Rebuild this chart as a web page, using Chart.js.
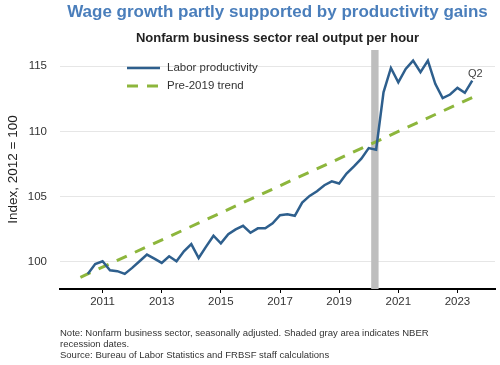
<!DOCTYPE html>
<html>
<head>
<meta charset="utf-8">
<script src="https://cdn.jsdelivr.net/npm/chart.js@4.4.1/dist/chart.umd.min.js"></script>
<style>
  html, body { margin: 0; padding: 0; background: #fff; }
  #wrap { position: relative; width: 500px; height: 365px; font-family: "Liberation Sans", Arial, sans-serif; }
  #note { position: absolute; left: 60px; top: 328px; font-size: 9.5px; line-height: 10.8px; color: #333; white-space: nowrap; }
</style>
</head>
<body>
<div id="wrap">
  <canvas id="chart" width="500" height="365"></canvas>
  <div id="note">Note: Nonfarm business sector, seasonally adjusted. Shaded gray area indicates NBER<br>recession dates.<br>Source: Bureau of Labor Statistics and FRBSF staff calculations</div>
</div>
<script>
/* ── Data ──────────────────────────────────────────── */
const quarters = [
  '2010Q2','2010Q3','2010Q4',
  '2011Q1','2011Q2','2011Q3','2011Q4',
  '2012Q1','2012Q2','2012Q3','2012Q4',
  '2013Q1','2013Q2','2013Q3','2013Q4',
  '2014Q1','2014Q2','2014Q3','2014Q4',
  '2015Q1','2015Q2','2015Q3','2015Q4',
  '2016Q1','2016Q2','2016Q3','2016Q4',
  '2017Q1','2017Q2','2017Q3','2017Q4',
  '2018Q1','2018Q2','2018Q3','2018Q4',
  '2019Q1','2019Q2','2019Q3','2019Q4',
  '2020Q1','2020Q2','2020Q3','2020Q4',
  '2021Q1','2021Q2','2021Q3','2021Q4',
  '2022Q1','2022Q2','2022Q3','2022Q4',
  '2023Q1','2023Q2'
];
const productivity = [
  99.06, 99.82, 100.03,
  99.34, 99.27, 99.06, 99.52,
  100.03, 100.54, 100.23, 99.90,
  100.41, 100.03, 100.80, 101.35,
  100.28, 101.15, 101.99, 101.41,
  102.10, 102.48, 102.75, 102.22,
  102.56, 102.56, 102.94, 103.57,
  103.63, 103.52, 104.54, 105.05,
  105.41, 105.87, 106.17, 106.00,
  106.76, 107.32, 107.91, 108.72,
  108.60, 113.00, 114.87, 113.77,
  114.80, 115.43, 114.54, 115.43,
  113.65, 112.55, 112.83, 113.34,
  112.96, 113.90
];
const trendQuarters = ['2010Q1', '2023Q2'];
const trendValues   = [98.8, 112.6];

const recessionStart = ['2020-02'];
const recessionEnd   = ['2020-04'];

const xTickYears = [2011, 2013, 2015, 2017, 2019, 2021, 2023];
const yTicks     = [100, 105, 110, 115];
const lastLabel  = 'Q2';

/* ── Helpers ───────────────────────────────────────── */
// quarter plotted at its end date
const qToYear = q => +q.slice(0, 4) + (+q.slice(5)) / 4;
const monthToYear = (m, end) => +m.slice(0, 4) + (+m.slice(5) - (end ? 0 : 1)) / 12;

Chart.defaults.font.family = '"Liberation Sans", Arial, sans-serif';
Chart.defaults.color = '#333';

const BLUE = '#2E5F8D', GREEN = '#8DB63C';

/* ── Plugins ───────────────────────────────────────── */
const recessionPlugin = {
  id: 'recession',
  beforeDatasetsDraw(chart) {
    const { ctx, chartArea: a, scales: { x } } = chart;
    ctx.save();
    ctx.fillStyle = '#BEBEBE';
    recessionStart.forEach((s, i) => {
      const x0 = x.getPixelForValue(monthToYear(s, false));
      const x1 = x.getPixelForValue(monthToYear(recessionEnd[i], true));
      ctx.fillRect(x0, a.top, x1 - x0, a.bottom - a.top);
    });
    ctx.restore();
  }
};

const legendPlugin = {
  id: 'inLegend',
  afterDatasetsDraw(chart) {
    const { ctx, chartArea: a } = chart;
    ctx.save();
    ctx.font = '11.5px "Liberation Sans", Arial, sans-serif';
    ctx.textBaseline = 'middle';
    chart.data.datasets.forEach((ds, i) => {
      const y = a.top + 18 + i * 18, x0 = a.left + 67;
      ctx.strokeStyle = ds.borderColor;
      ctx.lineWidth = ds.borderWidth;
      ctx.setLineDash(ds.borderDash || []);
      ctx.beginPath(); ctx.moveTo(x0, y); ctx.lineTo(x0 + 33, y); ctx.stroke();
      ctx.setLineDash([]);
      ctx.fillStyle = '#333';
      ctx.fillText(ds.label, x0 + 40, y);
    });
    // end-of-series label
    const meta = chart.getDatasetMeta(0);
    const last = meta.data[meta.data.length - 1];
    ctx.fillStyle = '#444';
    ctx.textAlign = 'center';
    ctx.textBaseline = 'alphabetic';
    ctx.font = '11px "Liberation Sans", Arial, sans-serif';
    ctx.fillText(lastLabel, last.x + 3, last.y - 4);
    ctx.restore();
  }
};

/* ── Chart ─────────────────────────────────────────── */
new Chart(document.getElementById('chart'), {
  type: 'line',
  data: {
    datasets: [
      {
        label: 'Labor productivity',
        data: quarters.map((q, i) => ({ x: qToYear(q), y: productivity[i] })),
        borderColor: BLUE, borderWidth: 2.5,
        pointRadius: 0, tension: 0, fill: false
      },
      {
        label: 'Pre-2019 trend',
        data: trendQuarters.map((q, i) => ({ x: qToYear(q), y: trendValues[i] })),
        borderColor: GREEN, borderWidth: 3, borderDash: [11, 9],
        pointRadius: 0, tension: 0, fill: false
      }
    ]
  },
  options: {
    responsive: false,
    animation: false,
    layout: { padding: { left: 0, right: 5, top: 0, bottom: 46 } },
    plugins: {
      legend: { display: false },
      tooltip: { enabled: false },
      title: {
        display: true, fullSize: false,
        text: 'Wage growth partly supported by productivity gains',
        color: '#4A7EBB', font: { size: 17, weight: 'bold' },
        padding: { top: 2, bottom: 8 }
      },
      subtitle: {
        display: true, fullSize: false,
        text: 'Nonfarm business sector real output per hour',
        color: '#222', font: { size: 13, weight: 'bold' },
        padding: { top: 0, bottom: 4 }
      }
    },
    scales: {
      x: {
        type: 'linear', min: 2009.56, max: 2024.27,
        afterBuildTicks: s => { s.ticks = xTickYears.map(v => ({ value: v })); },
        ticks: { color: '#333', font: { size: 11.5 }, padding: 2, autoSkip: false, maxRotation: 0,
                 callback: v => String(v) },
        grid: { display: true, drawOnChartArea: false, drawTicks: true, tickLength: 4, color: '#000' },
        border: { display: true, color: '#000', width: 2 },
        afterFit: s => { s.height = 30; }
      },
      y: {
        min: 97.9, max: 116.25,
        afterBuildTicks: s => { s.ticks = yTicks.map(v => ({ value: v })); },
        ticks: { color: '#333', font: { size: 11.5 }, padding: 13 },
        grid: { color: '#E6E6E6', drawTicks: false, lineWidth: 1 },
        border: { display: false },
        title: { display: true, text: 'Index, 2012 = 100', color: '#222',
                 font: { size: 13.5 }, padding: { top: 5, bottom: 0 } },
        afterFit: s => { s.width = 60; }
      }
    }
  },
  plugins: [recessionPlugin, legendPlugin]
});
</script>
</body>
</html>
